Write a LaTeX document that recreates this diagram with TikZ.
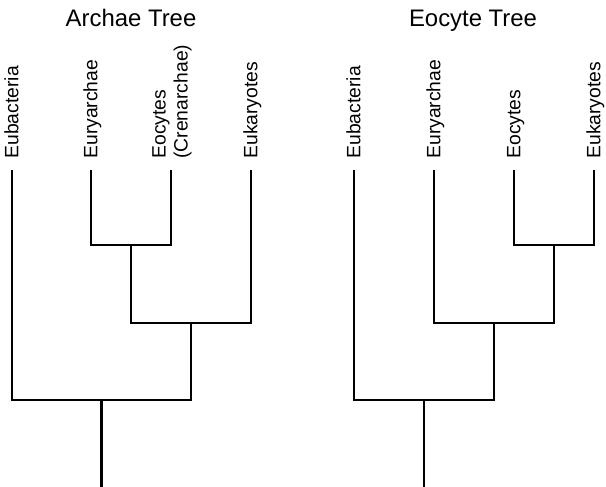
\documentclass[tikz,border=0pt]{standalone}
\usepackage{fontspec}
\setmainfont{Liberation Sans}
\usepackage{tikz}
\usetikzlibrary{calc}

\begin{document}
\begin{tikzpicture}[
    branch/.style={line width=1.6pt,line join=miter},
    leaf/.style={rotate=90,anchor=west,inner sep=0pt,font=\fontsize{11}{12.5}\selectfont,text height=.72em,text depth=0pt},
    title/.style={anchor=base,inner sep=0pt,font=\fontsize{13.6}{16}\selectfont}
  ]
    \useasboundingbox (0,0) rectangle (12.12,9.74);
    % Archae tree
    \node[title] (a-title) at (2.62,9.21) {Archae Tree};
    \coordinate (a-eub) at (0.24,6.34);
    \coordinate (a-eury) at (1.82,6.34);
    \coordinate (a-eoc) at (3.42,6.34);
    \coordinate (a-euk) at (5.02,6.34);
    \coordinate (a-j1) at (2.62,4.84);
    \coordinate (a-j2) at (3.82,3.28);
    \coordinate (a-j3) at (2.03,1.74);
    \coordinate (a-root) at (2.03,0);
    \node[leaf] (a-eub-l) at (0.24,6.56) {Eubacteria};
    \node[leaf] (a-eury-l) at (1.82,6.56) {Euryarchae};
    \node[leaf,align=left,text height=,text depth=] (a-eoc-l) at (3.44,6.56) {Eocytes\\(Crenarchae)};
    \node[leaf] (a-euk-l) at (5.02,6.56) {Eukaryotes};
    \draw[branch] (a-eury) |- (a-j1) -| (a-eoc);
    \draw[branch] (a-j1) |- (a-j2) -| (a-euk);
    \draw[branch] (a-eub) |- (a-j3) -| (a-j2);
    \draw[branch] (a-j3) -- (a-root);
    % Eocyte tree
    \node[title] (e-title) at (9.46,9.21) {Eocyte Tree};
    \coordinate (e-eub) at (7.08,6.34);
    \coordinate (e-eury) at (8.68,6.34);
    \coordinate (e-eoc) at (10.28,6.34);
    \coordinate (e-euk) at (11.88,6.34);
    \coordinate (e-j1) at (11.08,4.84);
    \coordinate (e-j2) at (9.88,3.28);
    \coordinate (e-j3) at (8.48,1.74);
    \coordinate (e-root) at (8.48,0);
    \node[leaf] (e-eub-l) at (7.08,6.56) {Eubacteria};
    \node[leaf] (e-eury-l) at (8.68,6.56) {Euryarchae};
    \node[leaf] (e-eoc-l) at (10.28,6.56) {Eocytes};
    \node[leaf] (e-euk-l) at (11.88,6.56) {Eukaryotes};
    \draw[branch] (e-eoc) |- (e-j1) -| (e-euk);
    \draw[branch] (e-eury) |- (e-j2) -| (e-j1);
    \draw[branch] (e-eub) |- (e-j3) -| (e-j2);
    \draw[branch] (e-j3) -- (e-root);
  \end{tikzpicture}
\end{document}
